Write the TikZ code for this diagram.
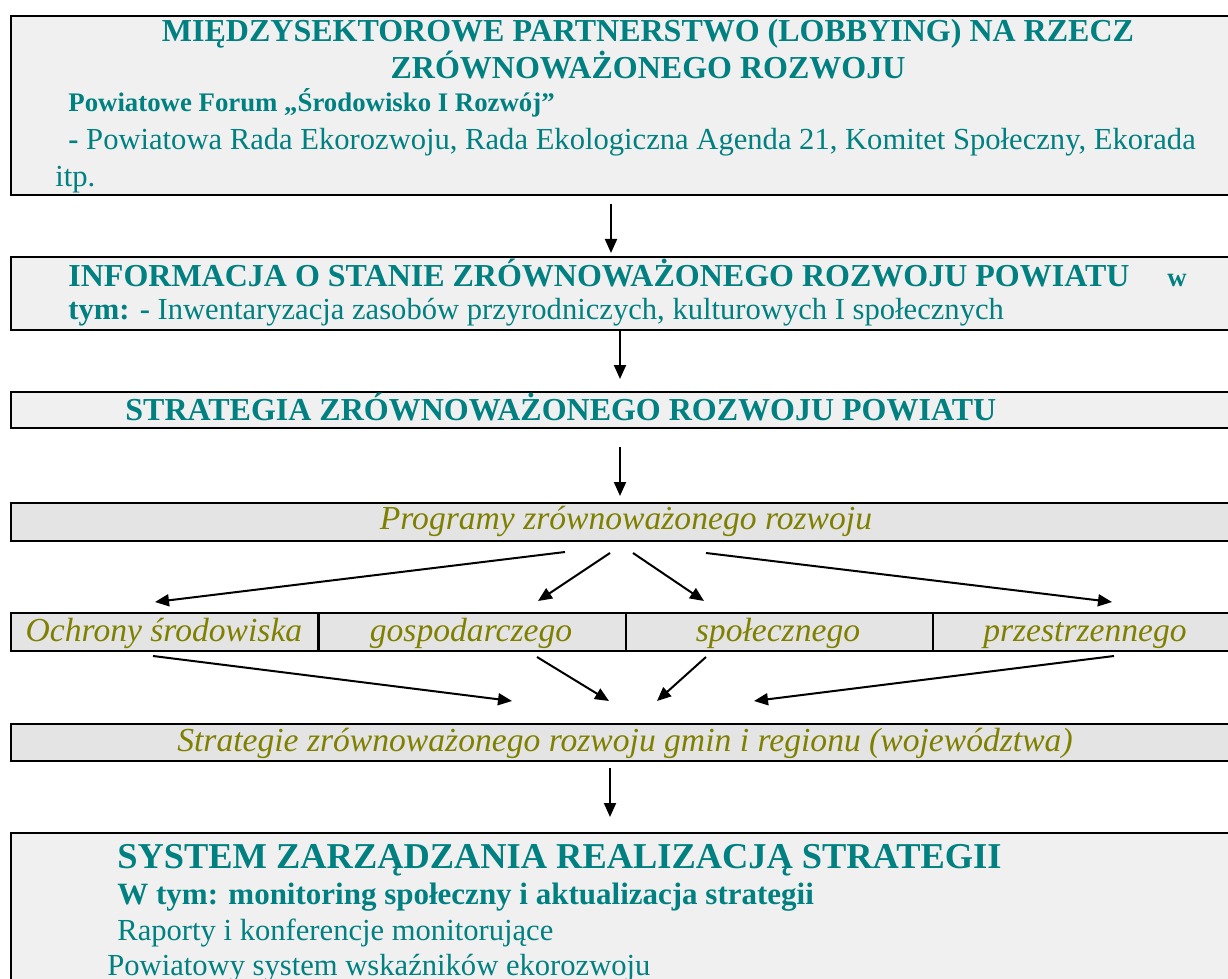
\documentclass[tikz,border=0pt]{standalone}
\usepackage{fontspec}
\setmainfont{Liberation Serif}
\usetikzlibrary{arrows.meta}
\definecolor{tealtxt}{HTML}{008080}
\definecolor{olivetxt}{HTML}{808000}
\definecolor{boxA}{HTML}{F0F0F0}
\definecolor{boxB}{HTML}{E4E4E4}
\begin{document}
\begin{tikzpicture}[x=0.5pt,y=-0.5pt,
  box/.style={draw=black, line width=1pt, fill=boxA, rectangle, anchor=north west, inner sep=0pt, minimum width=615pt},
  boxg/.style={box, fill=boxB},
  cell/.style={draw=black, line width=0.8pt, fill=boxB, rectangle, anchor=north west, inner sep=0pt, minimum width=153.5pt, minimum height=19pt},
  ttl/.style={text=tealtxt, font=\fontsize{16}{19}\selectfont\bfseries, inner sep=0pt},
  bod/.style={text=tealtxt, font=\fontsize{15.3}{18}\selectfont, inner sep=0pt},
  sub/.style={text=tealtxt, font=\fontsize{13.4}{16}\selectfont\bfseries, inner sep=0pt},
  itl/.style={text=olivetxt, font=\fontsize{16.8}{19}\selectfont\itshape, inner sep=0pt},
  arr/.style={draw=black, line width=1pt, -{Triangle[length=7pt,width=6pt]}}
]
\useasboundingbox (0,0) rectangle (1228,979);
\clip (0,0) rectangle (1228,979);
\fill[white] (0,0) rectangle (1228,979);

% boxes
\node[box, minimum height=89.5pt] (b1) at (10,15) {};
\node[box, minimum height=36.5pt] (b2) at (10,256) {};
\node[box, minimum height=18pt] (b3) at (10,391) {};
\node[boxg, minimum height=19pt] (b4) at (10,502) {};
\node[cell] (c1) at (10,612) {};
\node[cell] (c2) at (318,612) {};
\node[cell] (c3) at (625,612) {};
\node[cell] (c4) at (932,612) {};
\node[boxg, minimum height=18.5pt] (b6) at (10,723) {};
\node[box, minimum height=90pt] (b7) at (10,832) {};

% texts box 1
\node[ttl, anchor=base] (t11) at (648,42) {MIĘDZYSEKTOROWE PARTNERSTWO (LOBBYING) NA RZECZ};
\node[ttl, anchor=base] (t12) at (648,79) {ZRÓWNOWAŻONEGO ROZWOJU};
\node[sub, anchor=base west] (t13) at (68,112) {Powiatowe Forum „Środowisko I Rozwój”};
\node[bod, anchor=base west] (t14) at (68,150) {\textbf{-} Powiatowa Rada Ekorozwoju, Rada Ekologiczna Agenda 21, Komitet Społeczny, Ekorada};
\node[bod, anchor=base west] (t15) at (55,187) {itp.};

% box 2
\node[ttl, anchor=base west] (t21) at (68,286) {INFORMACJA O STANIE ZRÓWNOWAŻONEGO ROZWOJU POWIATU};
\node[sub, anchor=base west] (t21w) at (1167,286) {w};
\node[bod, anchor=base west] (t22) at (68,320) {\textbf{tym: -} Inwentaryzacja zasobów przyrodniczych, kulturowych I społecznych};

% box 3
\node[ttl, anchor=base west] (t3) at (125,420) {STRATEGIA ZRÓWNOWAŻONEGO ROZWOJU POWIATU};

% box 4
\node[itl, anchor=base] (t4) at (626,529) {Programy zrównoważonego rozwoju};

% cells
\node[itl, anchor=base] (tc1) at (164,641) {Ochrony środowiska};
\node[itl, anchor=base] (tc2) at (471,641) {gospodarczego};
\node[itl, anchor=base] (tc3) at (778,641) {społecznego};
\node[itl, anchor=base] (tc4) at (1085,641) {przestrzennego};

% box 6
\node[itl, anchor=base] (t6) at (625,751) {Strategie zrównoważonego rozwoju gmin i regionu (województwa)};

% box 7
\node[text=tealtxt, font=\fontsize{18.2}{22}\selectfont\bfseries, inner sep=0pt, anchor=base west] (t71) at (117,868) {SYSTEM ZARZĄDZANIA REALIZACJĄ STRATEGII};
\node[text=tealtxt, font=\fontsize{15.5}{18}\selectfont\bfseries, inner sep=0pt, anchor=base west] (t72) at (117,904) {W tym: monitoring społeczny i aktualizacja strategii};
\node[bod, anchor=base west] (t73) at (117,940) {Raporty i konferencje monitorujące};
\node[bod, anchor=base west] (t74) at (107,975) {Powiatowy system wskaźników ekorozwoju};

% arrow coordinates
\coordinate (a1s) at (611,204); \coordinate (a1e) at (611,253);
\coordinate (a2s) at (620,330); \coordinate (a2e) at (620,379);
\coordinate (a3s) at (620,447); \coordinate (a3e) at (620,496);
\coordinate (p1s) at (565,552); \coordinate (p1e) at (155,602);
\coordinate (p2s) at (610,553); \coordinate (p2e) at (538,601);
\coordinate (p3s) at (633,553); \coordinate (p3e) at (704,601);
\coordinate (p4s) at (706,553); \coordinate (p4e) at (1112,602);
\coordinate (q1s) at (153,656); \coordinate (q1e) at (512,701);
\coordinate (q2s) at (537,657); \coordinate (q2e) at (609,701);
\coordinate (q3s) at (706,657); \coordinate (q3e) at (657,701);
\coordinate (q4s) at (1114,656); \coordinate (q4e) at (754,701);
\coordinate (a4s) at (610,768); \coordinate (a4e) at (610,817);

\draw[arr] (a1s) -- (a1e);
\draw[arr] (a2s) -- (a2e);
\draw[arr] (a3s) -- (a3e);
\draw[arr] (p1s) -- (p1e);
\draw[arr] (p2s) -- (p2e);
\draw[arr] (p3s) -- (p3e);
\draw[arr] (p4s) -- (p4e);
\draw[arr] (q1s) -- (q1e);
\draw[arr] (q2s) -- (q2e);
\draw[arr] (q3s) -- (q3e);
\draw[arr] (q4s) -- (q4e);
\draw[arr] (a4s) -- (a4e);
\end{tikzpicture}
\end{document}
